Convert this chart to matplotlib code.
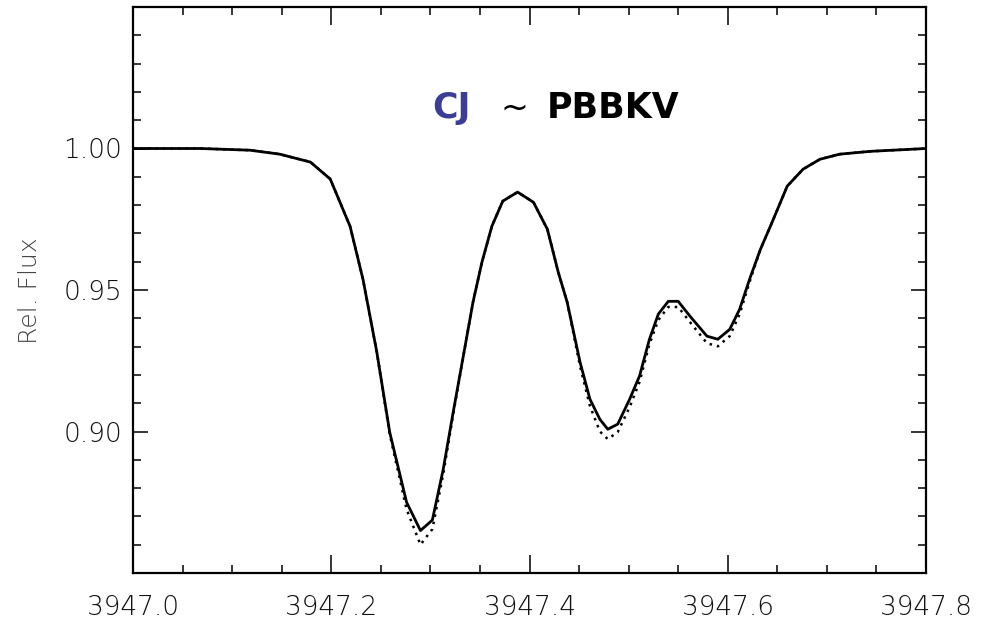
import matplotlib.pyplot as plt
from matplotlib.ticker import MultipleLocator

# wavelength grid (A) and relative flux
wave = [3947.000, 3947.068, 3947.118, 3947.148, 3947.179, 3947.199, 3947.219,
        3947.232, 3947.246, 3947.259, 3947.276, 3947.290, 3947.302, 3947.313,
        3947.323, 3947.335, 3947.343, 3947.352, 3947.362, 3947.373, 3947.388,
        3947.404, 3947.418, 3947.429, 3947.438, 3947.451, 3947.461, 3947.471,
        3947.479, 3947.489, 3947.501, 3947.511, 3947.521, 3947.530, 3947.540,
        3947.550, 3947.562, 3947.579, 3947.590, 3947.602, 3947.612, 3947.622,
        3947.633, 3947.643, 3947.660, 3947.676, 3947.693, 3947.713, 3947.744,
        3947.800]

flux_cj = [1.000, 1.000, 0.9994, 0.998, 0.9952, 0.9892, 0.9725,
           0.9538, 0.928, 0.8997, 0.875, 0.8650, 0.8687, 0.8867,
           0.9068, 0.9301, 0.9457, 0.9598, 0.9725, 0.9814, 0.9846,
           0.9810, 0.9715, 0.9563, 0.9457, 0.9245, 0.9114, 0.9043,
           0.9008, 0.9026, 0.9114, 0.9196, 0.9326, 0.9415, 0.9460,
           0.9460, 0.9407, 0.9337, 0.9326, 0.9361, 0.9432, 0.9538,
           0.9644, 0.9725, 0.9867, 0.9927, 0.9962, 0.998, 0.999,
           1.000]

flux_pbbkv = [1.000, 1.000, 0.9994, 0.998, 0.9952, 0.9892, 0.9725,
              0.9538, 0.928, 0.8990, 0.8725, 0.8600, 0.8655, 0.8850,
              0.9060, 0.9301, 0.9457, 0.9598, 0.9725, 0.9814, 0.9846,
              0.9810, 0.9715, 0.9563, 0.9457, 0.9230, 0.9090, 0.9000,
              0.8973, 0.8998, 0.9086, 0.9175, 0.9309, 0.9394, 0.9440,
              0.9440, 0.9386, 0.9312, 0.9301, 0.9337, 0.9415, 0.9528,
              0.9644, 0.9725, 0.9867, 0.9927, 0.9962, 0.998, 0.999,
              1.000]

fig = plt.figure(figsize=(9.94, 6.2), dpi=100)
ax = fig.add_axes([133/994, 1 - 573/620, (926 - 133)/994, (573 - 7)/620])

ax.plot(wave, flux_pbbkv, color='black', lw=1.8, ls=(0, (1, 2.0)))
ax.plot(wave, flux_cj, color='black', lw=2.0)

ax.set_xlim(3947.0, 3947.8)
ax.set_ylim(0.85, 1.05)
ax.set_xticks([3947.0, 3947.2, 3947.4, 3947.6, 3947.8])
ax.set_yticks([0.90, 0.95, 1.00])
ax.xaxis.set_minor_locator(MultipleLocator(0.05))
ax.yaxis.set_minor_locator(MultipleLocator(0.01))
ax.tick_params(which='both', direction='in', top=True, right=True,
               labelsize=19, labelcolor='#111111', width=1.1)
ax.tick_params(axis='x', which='major', length=13, pad=16)
ax.tick_params(axis='x', which='minor', length=6)
ax.tick_params(axis='y', which='major', length=11, pad=8)
ax.tick_params(axis='y', which='minor', length=6)
ax.xaxis.set_major_formatter(plt.FormatStrFormatter('%.1f'))
ax.yaxis.set_major_formatter(plt.FormatStrFormatter('%.2f'))
for lab in ax.get_xticklabels() + ax.get_yticklabels():
    lab.set_family('DejaVu Sans')
    lab.set_fontweight('light')
for s in ax.spines.values():
    s.set_linewidth(1.6)

fig.text(30/994, 1 - 291/620, 'Rel. Flux', rotation=90, ha='center', va='center',
         fontsize=18, color='#444444', family='DejaVu Sans', fontweight='light')

# title with the two model names
ty = 1 - 118/620
fig.text(432/994, ty, 'CJ', color='#3b3d96', fontsize=25, fontweight='bold',
         family='DejaVu Sans', va='baseline')
fig.text(501/994, ty, '~', color='black', fontsize=24, family='DejaVu Sans', va='baseline')
fig.text(547/994, ty, 'PBBKV', color='black', fontsize=25, fontweight='bold',
         family='DejaVu Sans', va='baseline')

fig.savefig('out.png', dpi=100)
